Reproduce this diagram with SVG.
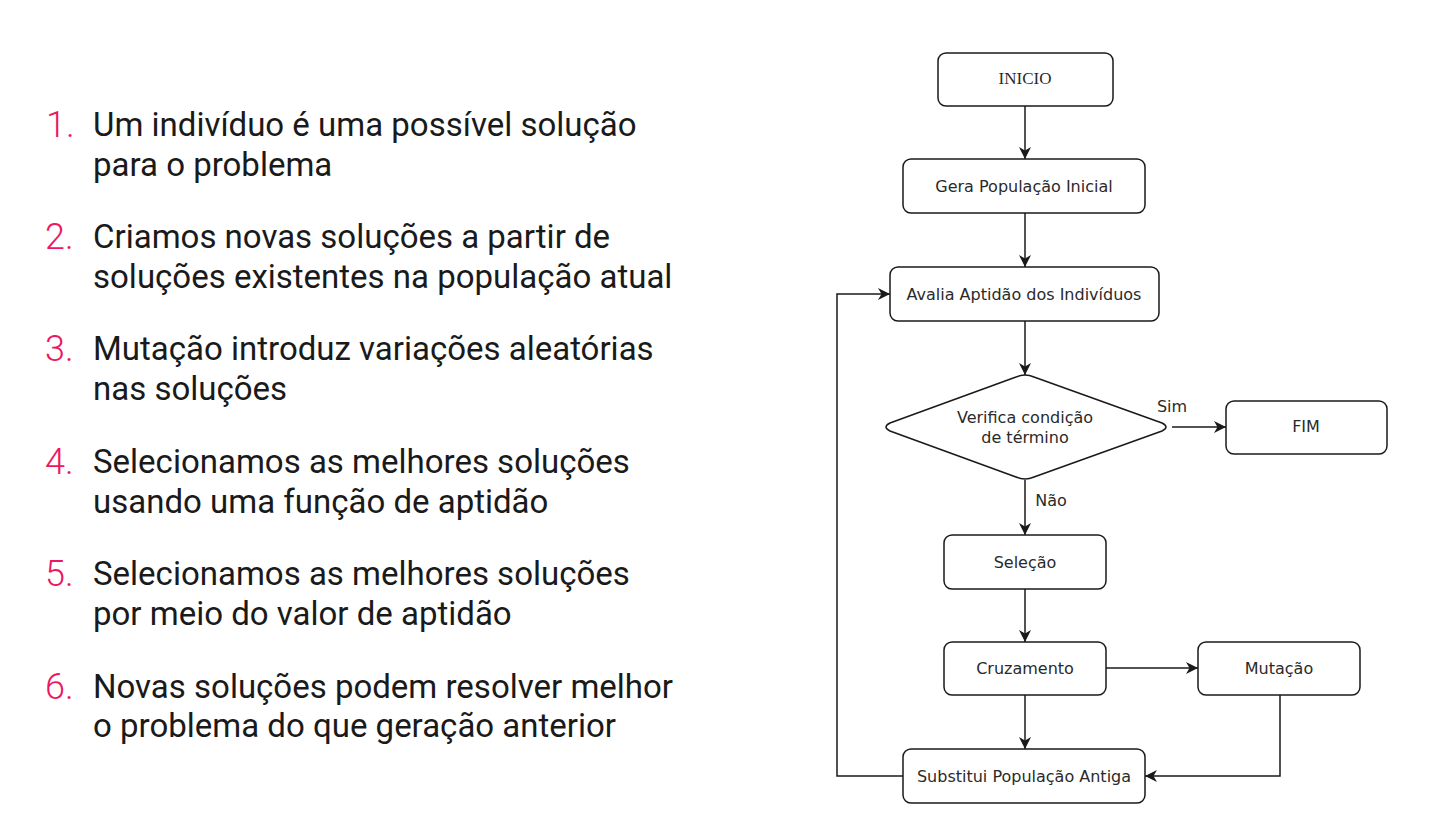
<svg xmlns="http://www.w3.org/2000/svg" width="1438" height="827" viewBox="0 0 1438 827">
<defs>
<style>
.item{font-family:Roboto,"Noto Sans",sans-serif;font-size:33px;fill:#1a1a1a}
.num{font-family:Roboto,"Noto Sans",sans-serif;font-size:36px;font-weight:300;fill:#ec1760}
.node{fill:#fff;stroke:#1a1a1a;stroke-width:1.5}
.lbl{font-family:"DejaVu Sans",Verdana,sans-serif;font-size:16px;fill:#2a2a2a;text-anchor:middle}
.serif{font-family:"Liberation Serif","Times New Roman",serif;font-size:17px}
.edge{fill:none;stroke:#1a1a1a;stroke-width:1.5}
</style>
<marker id="arr" markerUnits="userSpaceOnUse" markerWidth="13" markerHeight="13" viewBox="0 0 13 13" refX="12" refY="6.5" orient="auto">
<path d="M0,0.5 L12,6.5 L0,12.5 L3.5,6.5 Z" fill="#1a1a1a"/>
</marker>
</defs>
<rect width="1438" height="827" fill="#fff"/>

<g id="list">
<text class="num" x="46" y="137">1.</text>
<text class="item" x="93" y="136">Um indivíduo é uma possível solução</text>
<text class="item" x="93" y="176">para o problema</text>
<text class="num" x="45" y="249">2.</text>
<text class="item" x="93" y="248">Criamos novas soluções a partir de</text>
<text class="item" x="93" y="288">soluções existentes na população atual</text>
<text class="num" x="45" y="361">3.</text>
<text class="item" x="93" y="360">Mutação introduz variações aleatórias</text>
<text class="item" x="93" y="400">nas soluções</text>
<text class="num" x="45" y="474">4.</text>
<text class="item" x="93" y="473">Selecionamos as melhores soluções</text>
<text class="item" x="93" y="513">usando uma função de aptidão</text>
<text class="num" x="45" y="586">5.</text>
<text class="item" x="93" y="585">Selecionamos as melhores soluções</text>
<text class="item" x="93" y="625">por meio do valor de aptidão</text>
<text class="num" x="45" y="699">6.</text>
<text class="item" x="93" y="698">Novas soluções podem resolver melhor</text>
<text class="item" x="93" y="737">o problema do que geração anterior</text>
</g>

<g id="connectors">
<path class="edge" d="M1025,106 L1025,159" marker-end="url(#arr)"/>
<path class="edge" d="M1025,213 L1025,267" marker-end="url(#arr)"/>
<path class="edge" d="M1025,321 L1025,375" marker-end="url(#arr)"/>
<path class="edge" d="M1172,427 L1226,427" marker-end="url(#arr)"/>
<path class="edge" d="M1025,480 L1025,535" marker-end="url(#arr)"/>
<path class="edge" d="M1025,589 L1025,642" marker-end="url(#arr)"/>
<path class="edge" d="M1106,668 L1198,668" marker-end="url(#arr)"/>
<path class="edge" d="M1025,695 L1025,749" marker-end="url(#arr)"/>
<path class="edge" d="M1280,695 L1280,776 L1145,776" marker-end="url(#arr)"/>
<path class="edge" d="M903,776 L837,776 L837,294 L890,294" marker-end="url(#arr)"/>
<text class="lbl" x="1172" y="412">Sim</text>
<text class="lbl" x="1051" y="506">Não</text>
</g>

<g id="inicio">
<rect class="node" x="938" y="53" width="175" height="53" rx="8"/>
<text class="lbl serif" x="1025" y="84">INICIO</text>
</g>
<g id="gera">
<rect class="node" x="903" y="159" width="242" height="54" rx="8"/>
<text class="lbl" x="1024" y="192">Gera População Inicial</text>
</g>
<g id="avalia">
<rect class="node" x="890" y="267" width="269" height="54" rx="8"/>
<text class="lbl" x="1024" y="300">Avalia Aptidão dos Indivíduos</text>
</g>
<g id="verifica">
<path class="node" d="M1016,377 Q1025,373 1034,377 L1162,423 Q1170,427 1162,431 L1034,477 Q1025,481 1016,477 L890,431 Q882,427 890,423 Z"/>
<text class="lbl" x="1025" y="423">Verifica condição</text>
<text class="lbl" x="1025" y="443">de término</text>
</g>
<g id="fim">
<rect class="node" x="1226" y="401" width="161" height="53" rx="8"/>
<text class="lbl" x="1306" y="432">FIM</text>
</g>
<g id="selecao">
<rect class="node" x="944" y="535" width="162" height="54" rx="8"/>
<text class="lbl" x="1025" y="568">Seleção</text>
</g>
<g id="cruzamento">
<rect class="node" x="944" y="642" width="162" height="53" rx="8"/>
<text class="lbl" x="1025" y="674">Cruzamento</text>
</g>
<g id="mutacao">
<rect class="node" x="1198" y="642" width="162" height="53" rx="8"/>
<text class="lbl" x="1279" y="674">Mutação</text>
</g>
<g id="substitui">
<rect class="node" x="903" y="749" width="242" height="54" rx="8"/>
<text class="lbl" x="1024" y="782">Substitui População Antiga</text>
</g>
</svg>
